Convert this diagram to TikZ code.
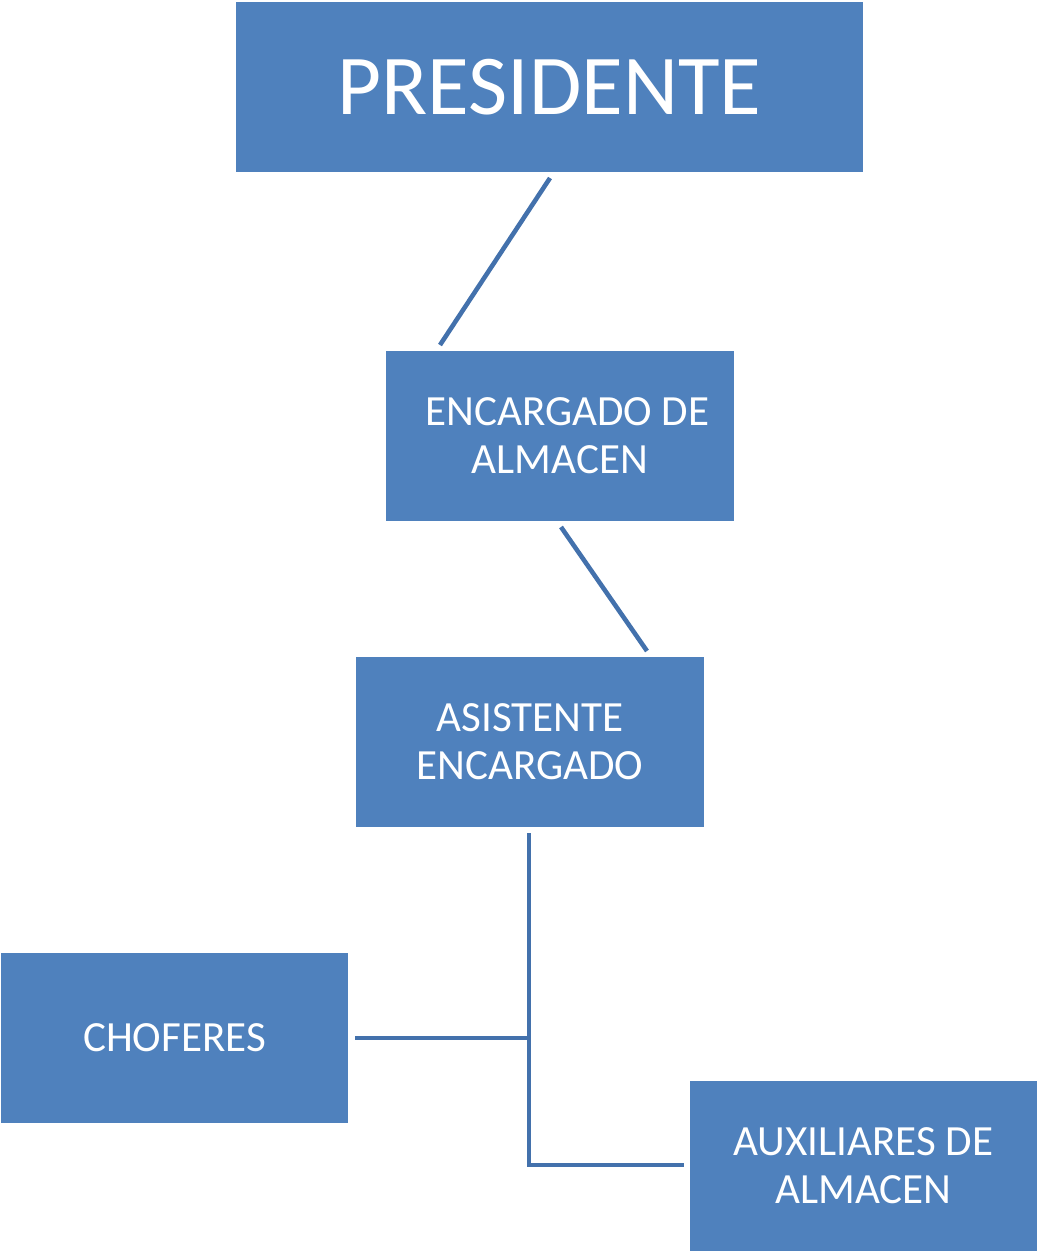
\documentclass[tikz,border=0pt]{standalone}
\usepackage{fontspec}
\setmainfont{Carlito}
\usetikzlibrary{positioning}
\definecolor{boxblue}{HTML}{4F81BD}
\definecolor{lineblue}{HTML}{4371AC}

\begin{document}
\begin{tikzpicture}[x=0.02cm,y=-0.02cm]
		\tikzstyle{puesto} = [fill=boxblue,text=white,inner sep=0pt,align=center,font=\fontsize{24.5}{27.5}\selectfont]
		\tikzstyle{enlace} = [draw=lineblue,line width=2.6pt]
		
		\useasboundingbox (0,0) rectangle (1037,1252);
		
		% Nodes
		\node [puesto, minimum width=12.54cm, minimum height=3.4cm, font=\fontsize{48.5}{50}\selectfont] (presidente) at (549.5,87) {PRESIDENTE};
		\node [puesto, minimum width=6.96cm, minimum height=3.4cm] (encargado) at (560,436) {\hspace*{0.3cm}ENCARGADO DE\\ALMACEN};
		\node [puesto, minimum width=6.96cm, minimum height=3.4cm] (asistente) at (530,742) {ASISTENTE\\ENCARGADO};
		\node [puesto, minimum width=6.94cm, minimum height=3.4cm] (choferes) at (174.5,1038) {CHOFERES};
		\node [puesto, minimum width=6.94cm, minimum height=3.4cm] (auxiliares) at (863.5,1166) {AUXILIARES DE\\ALMACEN};
		
		% Connector ends
		\coordinate (presA) at (550,178);
		\coordinate (encA) at (440,345);
		\coordinate (encB) at (561,527);
		\coordinate (asiA) at (647,651);
		\coordinate (asiB) at (529,833);
		\coordinate (cruce) at (529,1038);
		\coordinate (choA) at (355,1038);
		\coordinate (auxA) at (684,1165);
		
		\draw [enlace] (presA) -- (encA);
		\draw [enlace] (encB) -- (asiA);
		\draw [enlace] (asiB) |- (auxA);
		\draw [enlace] (choA) -- (cruce);
	\end{tikzpicture}
\end{document}
